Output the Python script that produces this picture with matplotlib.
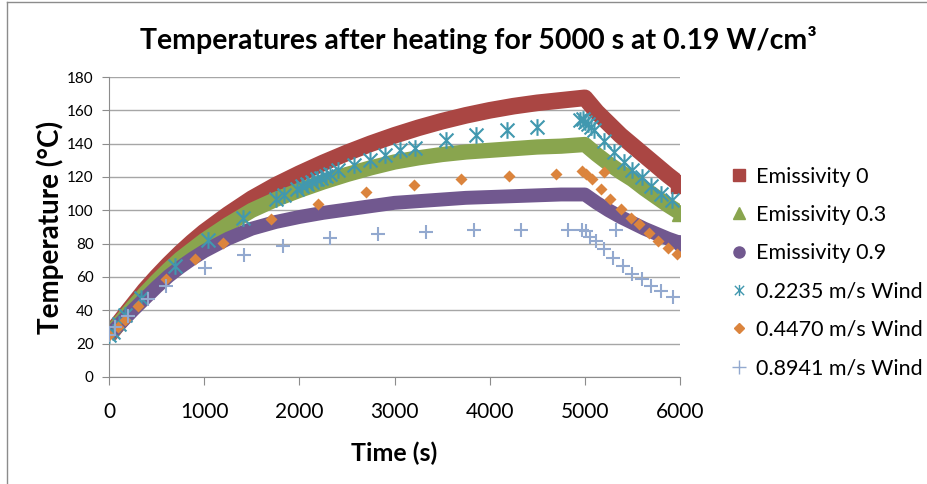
import matplotlib.pyplot as plt
from matplotlib.lines import Line2D
from matplotlib.path import Path

plt.rcParams["font.family"] = ["Lato", "DejaVu Sans"]

# thick bands (emissivity runs)
band_time = [0, 125, 250, 375, 500, 625, 750, 875, 1000, 1250, 1500, 1750,
             2000, 2250, 2500, 2750, 3000, 3250, 3500, 3750, 4000, 4250, 4500,
             4750, 5000, 5125, 5250, 5375, 5500, 5625, 5750, 5875, 6000]
emis_0 = [25, 34, 43, 52, 60, 67.5, 74.5, 81, 87, 97.5, 107, 115,
          122, 128.5, 134.5, 140, 145, 149.5, 153.5, 157, 160, 162.5, 164.5,
          166, 167.5, 159, 152, 145, 139, 133, 127, 121, 115.5]
emis_03 = [25, 33.5, 42, 50, 57.5, 64.5, 71, 76.5, 82, 91.5, 100, 106.5,
           112, 117, 121.5, 125.5, 129, 131.5, 133.5, 135, 136, 137, 138,
           138.5, 139.5, 133.5, 128, 123, 118.5, 113, 108, 103, 98.5]
emis_09 = [25, 32.5, 40, 47, 54, 60.5, 66, 71, 75.5, 83, 89, 93,
           96, 98.5, 100.5, 102.5, 104.5, 105.5, 106.5, 107.5, 108, 108.5, 109,
           109.5, 109.5, 104.5, 100, 96, 92.5, 89, 86, 83, 80.5]

# discrete wind runs
wind1_time = [0, 40, 100, 170, 340, 695, 1045, 1410, 1755, 1835, 1980, 2030,
              2080, 2130, 2180, 2230, 2280, 2320, 2410, 2575, 2740, 2900, 3060,
              3220, 3545, 3860, 4185, 4500, 4950, 4980, 5000, 5030, 5060, 5095,
              5200, 5305, 5410, 5500, 5605, 5690, 5800, 5920]
wind1_temp = [25, 27, 32, 37, 47.5, 66.5, 82, 95.5, 106.5, 109, 113, 114.5,
              116, 117, 118.5, 119.5, 120.5, 122, 124, 127, 130, 133.5, 136,
              137.5, 142, 145.5, 148, 150, 154, 155, 153, 152, 150, 148,
              141.5, 135, 129, 124, 120, 114.5, 109.5, 106]

wind2_time = [0, 95, 165, 305, 595, 900, 1200, 1700, 2195, 2695, 3200, 3700,
              4200, 4700, 4975, 5010, 5080, 5165, 5205, 5265, 5375, 5480, 5570,
              5675, 5765, 5870, 5965]
wind2_temp = [25, 29.7, 34, 42.7, 58.5, 70.7, 80.5, 94.5, 103.8, 111, 115.2,
              118.5, 120.5, 121.6, 123.5, 121.5, 119, 113, 123, 107, 101, 95.5,
              91.5, 86.5, 81.5, 77.5, 73.5]

wind3_time = [0, 60, 200, 405, 600, 1010, 1420, 1825, 2325, 2825, 3330, 3830,
              4325, 4820, 4975, 5007, 5055, 5113, 5200, 5295, 5325, 5400, 5500,
              5600, 5700, 5800, 5925]
wind3_temp = [25, 30, 36.7, 46.8, 54.8, 65.5, 73, 78.4, 83.2, 85.6, 86.9, 88,
              88.3, 88.3, 88.3, 87.5, 84, 81.5, 77, 71.5, 88, 66.3, 62, 58.5,
              54.5, 51.3, 47.7]

labels = ["Emissivity 0", "Emissivity 0.3", "Emissivity 0.9",
          "0.2235 m/s Wind", "0.4470 m/s Wind", "0.8941 m/s Wind"]
colors = ["#AA4643", "#89A54E", "#71588F", "#4198AF", "#DB843D", "#93A9CF"]

# Excel style star: an X with a vertical bar
star = Path([(-1, -1), (1, 1), (-1, 1), (1, -1), (0, -1.2), (0, 1.2)],
            [Path.MOVETO, Path.LINETO] * 3)

fig = plt.figure(figsize=(9.28, 4.84), dpi=100)
ax = fig.add_axes([0.1175, 0.2211, 0.6153, 0.6198])

bands = [(emis_0, "s", 12), (emis_03, "^", 11), (emis_09, "o", 10)]
for (vals, mk, lw), c in zip(bands, colors[:3]):
    ax.plot(band_time, vals, color=c, lw=lw, solid_joinstyle="round",
            solid_capstyle="butt", zorder=2)
    ax.plot(band_time[-1:], vals[-1:], mk, color=c, ms=lw * 1.1, zorder=2)

ax.plot(wind1_time, wind1_temp, linestyle="none", marker=star, ms=12,
        mfc="none", mec=colors[3], mew=1.5, zorder=3)
ax.plot(wind2_time, wind2_temp, linestyle="none", marker="D", ms=6.5,
        color=colors[4], mec="none", zorder=3)
ax.plot(wind3_time, wind3_temp, linestyle="none", marker="+", ms=10,
        mec=colors[5], mew=1.5, zorder=3)

ax.set_xlim(0, 6000)
ax.set_ylim(0, 180)
ax.set_xticks(range(0, 6001, 1000))
ax.set_yticks(range(0, 181, 20))
ax.yaxis.grid(True, color="#A6A6A6", lw=1)
ax.set_axisbelow(True)
for s in ["top", "right"]:
    ax.spines[s].set_visible(False)
for s in ["left", "bottom"]:
    ax.spines[s].set_color("#8C8C8C")
ax.tick_params(axis="x", length=6, color="#8C8C8C", labelsize=15, pad=12)
ax.tick_params(axis="y", length=5, color="#8C8C8C", labelsize=11, pad=6)

ax.set_xlabel("Time (s)", fontsize=18, fontweight="bold", labelpad=14)
ax.set_ylabel("Temperature (°C)", fontsize=20, fontweight="bold", labelpad=2)
fig.text(478 / 928, 1 - 40 / 484, "Temperatures after heating for 5000 s at 0.19 W/cm³",
         fontsize=20.5, fontweight="bold", ha="center", va="center")

handles = [
    Line2D([], [], linestyle="none", marker="s", ms=8, color=colors[0]),
    Line2D([], [], linestyle="none", marker="^", ms=8, color=colors[1]),
    Line2D([], [], linestyle="none", marker="o", ms=8, color=colors[2]),
    Line2D([], [], linestyle="none", marker=star, ms=8, mfc="none",
           mec=colors[3], mew=1),
    Line2D([], [], linestyle="none", marker="D", ms=5.5, color=colors[4]),
    Line2D([], [], linestyle="none", marker="+", ms=10, mec=colors[5], mew=1),
]
fig.legend(handles, labels, loc="upper left",
           bbox_to_anchor=(722 / 928, 1 - 158 / 484), frameon=False,
           fontsize=15.5, handlelength=0.8, handletextpad=0.4,
           labelspacing=0.85, borderaxespad=0)

# partial outer frame of the chart area
fig.add_artist(Line2D([7 / 928, 7 / 928], [0, 1 - 2 / 484], color="#8C8C8C", lw=1))
fig.add_artist(Line2D([7 / 928, 1], [1 - 2 / 484, 1 - 2 / 484], color="#8C8C8C", lw=1))

fig.savefig("out.png", dpi=100)
